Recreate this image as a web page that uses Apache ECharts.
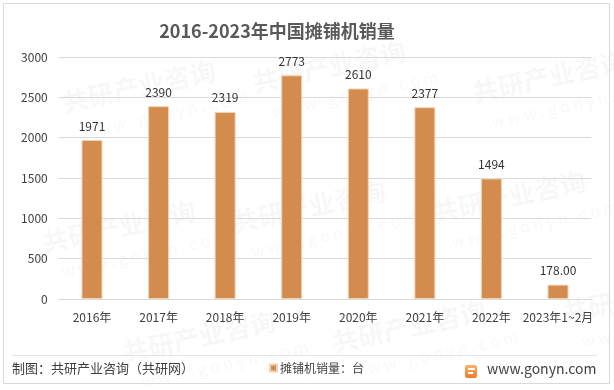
<!DOCTYPE html>
<html>
<head>
<meta charset="utf-8">
<script src="https://cdn.jsdelivr.net/npm/echarts@6/dist/echarts.min.js"></script>
<style>
html,body{margin:0;padding:0;background:#fff;}
#c{width:614px;height:390px;}
</style>
</head>
<body>
<div id="c"></div>
<script>
var categories = ['2016年','2017年','2018年','2019年','2020年','2021年','2022年','2023年1~2月'];
var salesValues = [1971, 2390, 2319, 2773, 2610, 2377, 1494, 178];
var labelTexts = ['1971','2390','2319','2773','2610','2377','1494','178.00'];
var yTicks = [0, 500, 1000, 1500, 2000, 2500, 3000];
var seriesName = '摊铺机销量：台';
var titleText = '2016-2023年中国摊铺机销量';
var sourceText = '制图：共研产业咨询（共研网）';
var siteText = 'www.gonyn.com';

var FONT = '"Noto Sans CJK SC","Noto Sans",sans-serif';
var chart = echarts.init(document.getElementById('c'), null, {renderer:'canvas'});

var watermarks = [];
var wmPos = [[60,90],[250,70],[470,80],[40,230],[230,210],[430,200],[120,340],[330,330],[560,300]];
wmPos.forEach(function(p){
  watermarks.push({
    type:'text', x:p[0], y:p[1], rotation: Math.PI*12/180, silent:true, z:-1,
    style:{text:'共研产业咨询', fill:'rgba(0,0,0,0.03)', font:'bold 26px ' + FONT}
  });
  watermarks.push({
    type:'text', x:p[0]+20, y:p[1]+34, rotation: Math.PI*12/180, silent:true, z:-1,
    style:{text:'w w w . g o n y n . c o m', fill:'rgba(0,0,0,0.03)', font:'16px ' + FONT}
  });
});

var option = {
  backgroundColor:'#fff',
  animation:false,
  title:{
    text:titleText, left:272, top:17, textAlign:'center',
    textStyle:{fontFamily:FONT, fontSize:18, fontWeight:'bold', color:'#595959'}
  },
  legend:{
    data:[seriesName], left:264, top:357, itemWidth:7, itemHeight:7, icon:'rect', itemGap:4,
    textStyle:{fontFamily:FONT, fontSize:12, color:'#404040', padding:[0,0,0,-2]}
  },
  grid:{left:58.7, right:22.7, top:57, bottom:91, containLabel:false},
  xAxis:{
    type:'category', data:categories,
    axisLine:{lineStyle:{color:'#d9d9d9'}},
    axisTick:{show:false},
    axisLabel:{fontFamily:FONT, fontSize:12, color:'#404040', margin:12, interval:0}
  },
  yAxis:{
    type:'value', min:0, max:3000, interval:500,
    axisLine:{show:false}, axisTick:{show:false},
    splitLine:{lineStyle:{color:'#d9d9d9'}},
    axisLabel:{fontFamily:FONT, fontSize:12, color:'#404040', margin:11,
      formatter:function(v){ return yTicks.indexOf(v) >= 0 ? String(v) : ''; }}
  },
  series:[{
    name:seriesName, type:'bar', data:salesValues, barWidth:21,
    itemStyle:{color:'#D38B4E', borderColor:'#F3D3B5', borderWidth:1},
    label:{show:true, position:'top', distance:8, fontFamily:FONT, fontSize:12, color:'#333',
      formatter:function(p){ return labelTexts[p.dataIndex]; }}
  }],
  graphic: watermarks.concat([
    {type:'rect', shape:{x:3.5, y:3.5, width:606, height:380}, style:{fill:null, stroke:'#d9d9d9', lineWidth:1}, silent:true},
    {type:'line', shape:{x1:12, y1:355.5, x2:597, y2:355.5}, style:{stroke:'#e3e3e3', lineWidth:1}, silent:true},
    {type:'text', x:12, y:362, style:{text:sourceText, fill:'#404040', font:'13px ' + FONT}},
    {type:'rect', shape:{x:465, y:365, width:12, height:13, r:2},
      style:{fill:new echarts.graphic.LinearGradient(0,0,0,1,[{offset:0,color:'#f9b26b'},{offset:1,color:'#f07a2a'}])}},
    {type:'rect', shape:{x:468, y:368, width:7, height:2}, style:{fill:'#fff'}},
    {type:'rect', shape:{x:468, y:372, width:5, height:2}, style:{fill:'#fff'}},
    {type:'text', x:487, y:362, style:{text:siteText, fill:'#404040', font:'14px ' + FONT}}
  ])
};
chart.setOption(option);
</script>
</body>
</html>
